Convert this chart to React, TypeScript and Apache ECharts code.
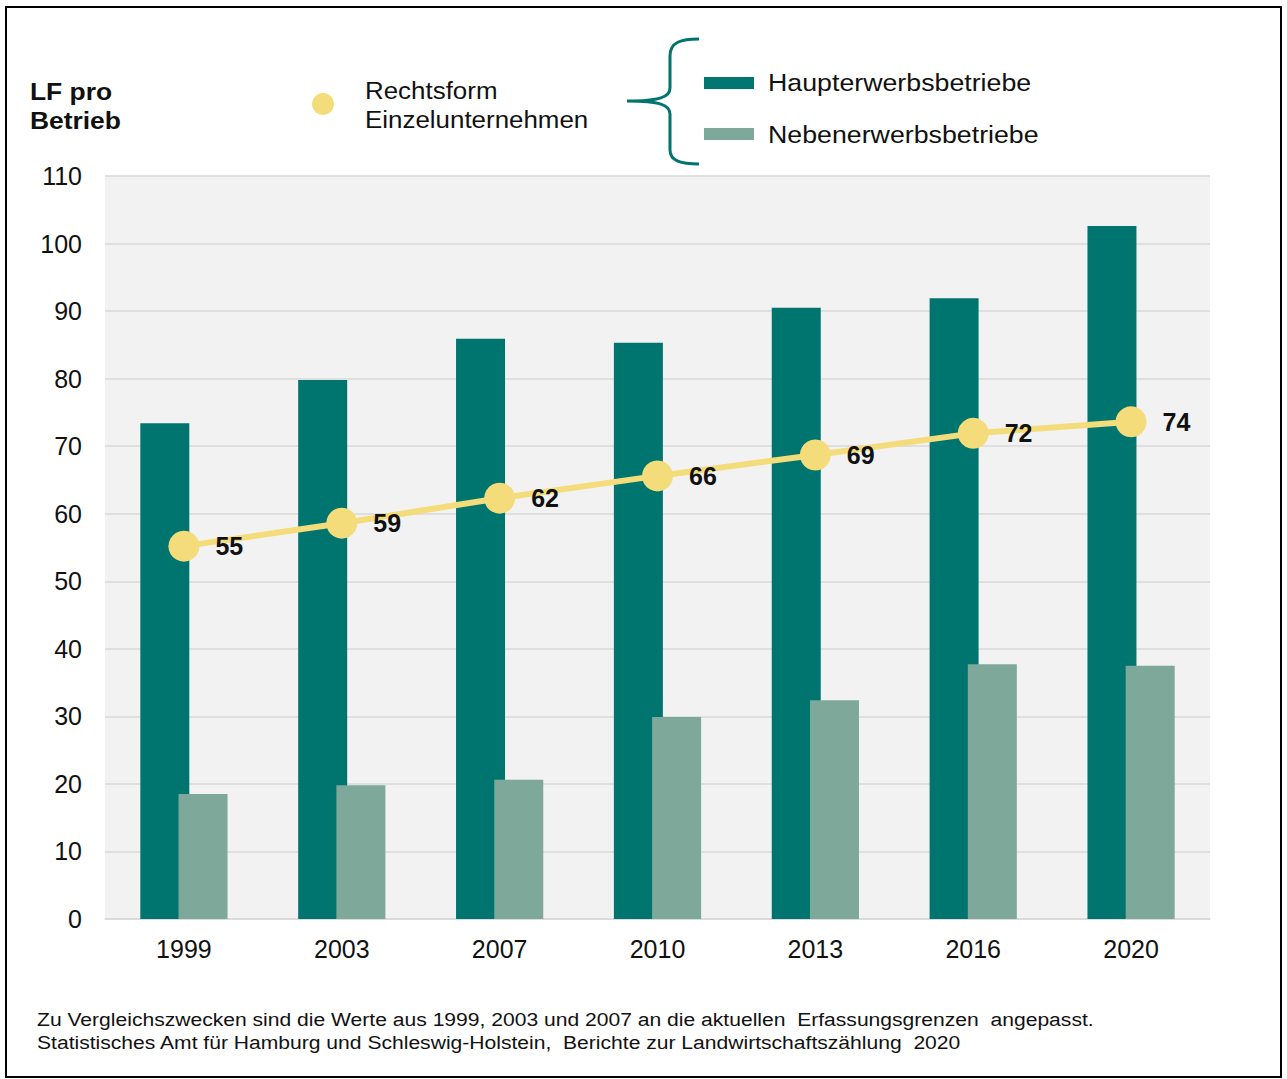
import React, { useEffect, useRef } from "react";
import * as echarts from "echarts";

const years = ["1999", "2003", "2007", "2010", "2013", "2016", "2020"];
const haupterwerb = [73.4, 79.8, 85.9, 85.3, 90.5, 91.9, 102.6];
const nebenerwerb = [18.5, 19.8, 20.6, 29.9, 32.4, 37.7, 37.5];
const einzelunternehmen = [55.2, 58.6, 62.3, 65.6, 68.7, 71.9, 73.6];
const einzelLabels = ["55", "59", "62", "66", "69", "72", "74"];
const yTicks = [0, 10, 20, 30, 40, 50, 60, 70, 80, 90, 100, 110];

const DARK = "#00756F";
const LIGHT = "#7EA89A";
const YELLOW = "#F5DC7A";
const FONT = "'Liberation Sans', Arial, sans-serif";

echarts.graphic.registerShape(
  "brace",
  echarts.graphic.extendPath(
    "M699,39 C681,39 670,42 670,56 L670,88 C670,97 660,101 627,101 C660,101 670,105 670,114 L670,150 C670,161 681,164 699,164",
    {}
  )
);

export default function App() {
  const ref = useRef<HTMLDivElement>(null);
  useEffect(() => {
    if (!ref.current) return;
    const chart = echarts.init(ref.current, null, { renderer: "svg" });
    chart.setOption({
      animation: false,
      backgroundColor: "#ffffff",
      textStyle: { fontFamily: FONT },
      grid: {
        left: 105,
        right: 77,
        top: 176,
        bottom: 160,
        show: true,
        backgroundColor: "#F2F2F2",
        borderWidth: 0,
      },
      xAxis: {
        type: "category",
        data: years,
        axisLine: { show: true, lineStyle: { color: "#D9D9D9", width: 1.5 } },
        axisTick: { show: false },
        axisLabel: { color: "#111", fontSize: 25, margin: 17, fontFamily: FONT },
      },
      yAxis: {
        type: "value",
        min: yTicks[0],
        max: yTicks[yTicks.length - 1],
        interval: 10,
        axisLine: { show: false },
        axisTick: { show: false },
        axisLabel: { color: "#111", fontSize: 25, margin: 23, fontFamily: FONT },
        splitLine: { lineStyle: { color: "#D9D9D9", width: 1.5 } },
      },
      series: [
        {
          name: "Haupterwerbsbetriebe",
          type: "bar",
          data: haupterwerb,
          barWidth: 49,
          barGap: "-22%",
          itemStyle: { color: DARK },
        },
        {
          name: "Nebenerwerbsbetriebe",
          type: "bar",
          data: nebenerwerb,
          barWidth: 49,
          itemStyle: { color: LIGHT },
        },
        {
          name: "Rechtsform Einzelunternehmen",
          type: "line",
          data: einzelunternehmen,
          symbol: "circle",
          symbolSize: 31,
          lineStyle: { color: YELLOW, width: 6 },
          itemStyle: { color: YELLOW },
          z: 5,
          label: {
            show: true,
            position: "right",
            distance: 16,
            fontSize: 25,
            fontWeight: "bold",
            color: "#111",
            fontFamily: FONT,
            formatter: (p: any) => einzelLabels[p.dataIndex],
          },
        },
      ],
      graphic: [
        {
          type: "rect",
          shape: { x: 6, y: 7, width: 1275, height: 1070 },
          style: { fill: "none", stroke: "#000", lineWidth: 2 },
          silent: true,
        },
        {
          type: "text",
          x: 30,
          y: 77,
          scaleX: 1.1,
          style: {
            text: "LF pro\nBetrieb",
            fontSize: 24,
            fontWeight: "bold",
            fill: "#111",
            fontFamily: FONT,
            lineHeight: 29,
          },
        },
        {
          type: "circle",
          shape: { cx: 323, cy: 104, r: 11 },
          style: { fill: YELLOW },
        },
        {
          type: "text",
          x: 365,
          y: 76,
          scaleX: 1.08,
          style: {
            text: "Rechtsform\nEinzelunternehmen",
            fontSize: 24,
            fill: "#111",
            fontFamily: FONT,
            lineHeight: 29,
          },
        },
        {
          type: "brace",
          x: 0,
          y: 0,
          style: { fill: "none", stroke: DARK, lineWidth: 3 },
        },
        {
          type: "rect",
          shape: { x: 704, y: 77, width: 50, height: 12 },
          style: { fill: DARK },
        },
        {
          type: "rect",
          shape: { x: 704, y: 128, width: 50, height: 12 },
          style: { fill: LIGHT },
        },
        {
          type: "text",
          x: 768,
          y: 83,
          scaleX: 1.115,
          style: {
            text: "Haupterwerbsbetriebe",
            fontSize: 24,
            fill: "#111",
            fontFamily: FONT,
            verticalAlign: "middle",
          },
        },
        {
          type: "text",
          x: 768,
          y: 135,
          scaleX: 1.115,
          style: {
            text: "Nebenerwerbsbetriebe",
            fontSize: 24,
            fill: "#111",
            fontFamily: FONT,
            verticalAlign: "middle",
          },
        },
        {
          type: "text",
          x: 37,
          y: 1008,
          scaleX: 1.11,
          style: {
            text:
              "Zu Vergleichszwecken sind die Werte aus 1999, 2003 und 2007 an die aktuellen  Erfassungsgrenzen  angepasst.\nStatistisches Amt für Hamburg und Schleswig-Holstein,  Berichte zur Landwirtschaftszählung  2020",
            fontSize: 19,
            fill: "#111",
            fontFamily: FONT,
            lineHeight: 23,
          },
        },
      ],
    });
    return () => chart.dispose();
  }, []);
  return (
    <div
      ref={ref}
      style={{ position: "absolute", left: 0, top: 0, width: 1287, height: 1079 }}
    />
  );
}
